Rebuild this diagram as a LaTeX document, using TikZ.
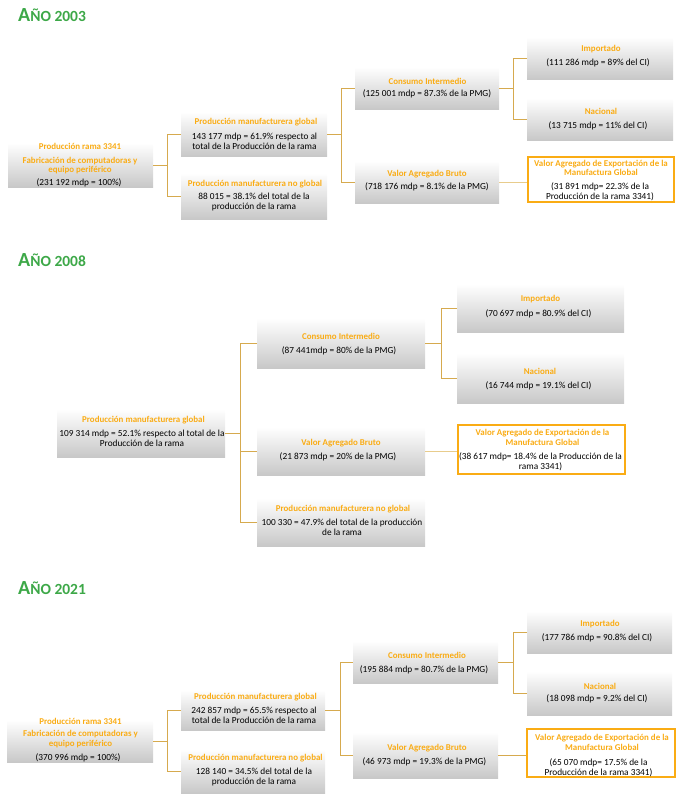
\documentclass[tikz,border=0pt]{standalone}
\usepackage{fontspec}
\setmainfont{Carlito}
\definecolor{orng}{RGB}{250,172,20}
\definecolor{conn}{RGB}{214,170,78}
\definecolor{connl}{RGB}{232,204,140}
\definecolor{grn}{RGB}{61,168,72}
\definecolor{boxbot}{RGB}{200,200,200}
\begin{document}
\begin{tikzpicture}[x=1pt,y=-1pt,
 gbox/.style={rectangle, inner sep=0pt, top color=white, bottom color=boxbot, draw=none},
 obox/.style={rectangle, inner sep=0pt, draw=orng, line width=1.6pt, fill=white},
 ttl/.style={text=orng, font=\fontsize{8.9}{9.6}\selectfont\bfseries, align=center, inner sep=0pt},
 bdy/.style={text=black, font=\fontsize{9.3}{9.9}\selectfont, align=center, inner sep=0pt},
 yr/.style={text=grn, font=\bfseries, anchor=base west, inner sep=0pt},
 ln/.style={draw=conn, line width=0.9pt},
 lnl/.style={draw=connl, line width=0.9pt},
]
\useasboundingbox (0,0) rectangle (683,800);

% ---------- 2003 ----------
\node[yr] (y03) at (18,22) {{\fontsize{20}{20}\selectfont A}{\fontsize{15.5}{15.5}\selectfont ÑO 2003}};
\node[gbox, minimum width=145pt, minimum height=44pt] (r03) at (80.5,165) {};
\node[gbox, minimum width=146pt, minimum height=44pt] (g03) at (254,134) {};
\node[gbox, minimum width=146pt, minimum height=46pt] (n03) at (254,196) {};
\node[gbox, minimum width=144pt, minimum height=42pt] (ci03) at (427,88) {};
\node[gbox, minimum width=144pt, minimum height=42pt] (vab03) at (427,182) {};
\node[gbox, minimum width=146pt, minimum height=42pt] (imp03) at (600,58) {};
\node[gbox, minimum width=146pt, minimum height=42pt] (nac03) at (600,119) {};
\node[obox, minimum width=146pt, minimum height=45pt] (vae03) at (601,179.5) {};

\draw[ln] (r03.east) -- ++(14,0) |- (g03.west);
\draw[ln] (r03.east) -- ++(14,0) |- (n03.west);
\draw[ln] (g03.east) -- ++(14,0) |- (ci03.west);
\draw[ln] (g03.east) -- ++(14,0) |- (vab03.west);
\draw[ln] (ci03.east) -- ++(14,0) |- (imp03.west);
\draw[ln] (ci03.east) -- ++(14,0) |- (nac03.west);
\draw[lnl] (vab03.east) -- (vab03.east -| vae03.west);

\node[ttl] (r03t1) at (80,146) {Producción rama 3341};
\node[ttl] (r03t2) at (80,165.5) {Fabricación de computadoras y\\equipo periférico};
\node[bdy] (r03b) at (79,183) {(231 192 mdp = 100\%)};
\node[ttl] (g03t) at (256,122) {Producción manufacturera global};
\node[bdy] (g03b) at (254.5,141.5) {143 177 mdp = 61.9\% respecto al\\total de la Producción de la rama};
\node[ttl] (n03t) at (255,184) {Producción manufacturera no global};
\node[bdy] (n03b) at (254,202) {88 015 = 38.1\% del total de la\\producción de la rama};
\node[ttl] (ci03t) at (427.5,81) {Consumo Intermedio};
\node[bdy] (ci03b) at (427,94) {(125 001 mdp = 87.3\% de la PMG)};
\node[ttl] (vab03t) at (427,174) {Valor Agregado Bruto};
\node[bdy] (vab03b) at (427,187) {(718 176 mdp = 8.1\% de la PMG)};
\node[ttl] (imp03t) at (601,49) {Importado};
\node[bdy] (imp03b) at (598,63) {(111 286 mdp = 89\% del CI)};
\node[ttl] (nac03t) at (601,111) {Nacional};
\node[bdy] (nac03b) at (598,126) {(13 715 mdp = 11\% del CI)};
\node[ttl] (vae03t) at (601,168) {Valor Agregado de Exportación de la\\Manufactura Global};
\node[bdy] (vae03b) at (600,192) {(31 891 mdp= 22.3\% de la\\Producción de la rama 3341)};

% ---------- 2008 ----------
\node[yr] (y08) at (18,266) {{\fontsize{20}{20}\selectfont A}{\fontsize{15.5}{15.5}\selectfont ÑO 2008}};
\node[gbox, minimum width=168pt, minimum height=48pt] (r08) at (141,433) {};
\node[gbox, minimum width=168pt, minimum height=50pt] (ci08) at (341,343) {};
\node[gbox, minimum width=168pt, minimum height=48pt] (vab08) at (341,451) {};
\node[gbox, minimum width=168pt, minimum height=48pt] (n08) at (341,522) {};
\node[gbox, minimum width=167pt, minimum height=48pt] (imp08) at (540.5,308) {};
\node[gbox, minimum width=167pt, minimum height=50pt] (nac08) at (540.5,378) {};
\node[obox, minimum width=167pt, minimum height=49pt] (vae08) at (541.5,449.5) {};

\draw[ln] (r08.east) -- ++(15,0) |- (ci08.west);
\draw[ln] (r08.east) -- ++(15,0) |- (vab08.west);
\draw[ln] (r08.east) -- ++(15,0) |- (n08.west);
\draw[ln] (ci08.east) -- ++(16,0) |- (imp08.west);
\draw[ln] (ci08.east) -- ++(16,0) |- (nac08.west);
\draw[lnl] (vab08.east) -- (vab08.east -| vae08.west);

\node[ttl] (r08t) at (143.5,420) {Producción manufacturera global};
\node[bdy] (r08b) at (142,438) {109 314 mdp = 52.1\% respecto al total de la\\Producción de la rama};
\node[ttl] (ci08t) at (341,336) {Consumo Intermedio};
\node[bdy] (ci08b) at (339,351) {(87 441mdp = 80\% de la PMG)};
\node[ttl] (vab08t) at (341,443) {Valor Agregado Bruto};
\node[bdy] (vab08b) at (338,457) {(21 873 mdp = 20\% de la PMG)};
\node[ttl] (n08t) at (343,509) {Producción manufacturera no global};
\node[bdy] (n08b) at (342,527.5) {100 330 = 47.9\% del total de la producción\\de la rama};
\node[ttl] (imp08t) at (540.5,299) {Importado};
\node[bdy] (imp08b) at (538.5,314) {(70 697 mdp = 80.9\% del CI)};
\node[ttl] (nac08t) at (540,371) {Nacional};
\node[bdy] (nac08b) at (538.5,386) {(16 744 mdp = 19.1\% del CI)};
\node[ttl] (vae08t) at (542.5,437.5) {Valor Agregado de Exportación de la\\Manufactura Global};
\node[bdy] (vae08b) at (540.5,461.5) {(38 617 mdp= 18.4\% de la Producción de la\\rama 3341)};

% ---------- 2021 ----------
\node[yr] (y21) at (18,594) {{\fontsize{20}{20}\selectfont A}{\fontsize{15.5}{15.5}\selectfont ÑO 2021}};
\node[gbox, minimum width=146pt, minimum height=42pt] (r21) at (80,741) {};
\node[gbox, minimum width=144pt, minimum height=40pt] (g21) at (253,710) {};
\node[gbox, minimum width=144pt, minimum height=44pt] (n21) at (253,771) {};
\node[gbox, minimum width=145pt, minimum height=42pt] (ci21) at (425.5,662) {};
\node[gbox, minimum width=145pt, minimum height=46pt] (vab21) at (425.5,755) {};
\node[gbox, minimum width=145pt, minimum height=42pt] (imp21) at (599.5,632) {};
\node[gbox, minimum width=145pt, minimum height=44pt] (nac21) at (599.5,693) {};
\node[obox, minimum width=148pt, minimum height=48pt] (vae21) at (601,753) {};

\draw[ln] (r21.east) -- ++(14,0) |- (g21.west);
\draw[ln] (r21.east) -- ++(14,0) |- (n21.west);
\draw[ln] (g21.east) -- ++(15,0) |- (ci21.west);
\draw[ln] (g21.east) -- ++(15,0) |- (vab21.west);
\draw[ln] (ci21.east) -- ++(15,0) |- (imp21.west);
\draw[ln] (ci21.east) -- ++(15,0) |- (nac21.west);
\draw[ln] (vab21.east) -- (vab21.east -| vae21.west);

\node[ttl] (r21t1) at (80.5,721) {Producción rama 3341};
\node[ttl] (r21t2) at (80.5,739) {Fabricación de computadoras y\\equipo periférico};
\node[bdy] (r21b) at (78,758) {(370 996 mdp = 100\%)};
\node[ttl] (g21t) at (255.5,697) {Producción manufacturera global};
\node[bdy] (g21b) at (254,715.5) {242 857 mdp = 65.5\% respecto al\\total de la Producción de la rama};
\node[ttl] (n21t) at (255.5,758) {Producción manufacturera no global};
\node[bdy] (n21b) at (254,777) {128 140 = 34.5\% del total de la\\producción de la rama};
\node[ttl] (ci21t) at (427,655) {Consumo Intermedio};
\node[bdy] (ci21b) at (424,670) {(195 884 mdp = 80.7\% de la PMG)};
\node[ttl] (vab21t) at (427,748) {Valor Agregado Bruto};
\node[bdy] (vab21b) at (424.5,762) {(46 973 mdp = 19.3\% de la PMG)};
\node[ttl] (imp21t) at (600,624) {Importado};
\node[bdy] (imp21b) at (597,638) {(177 786 mdp = 90.8\% del CI)};
\node[ttl] (nac21t) at (600,686) {Nacional};
\node[bdy] (nac21b) at (597,699) {(18 098 mdp = 9.2\% del CI)};
\node[ttl] (vae21t) at (602,742.5) {Valor Agregado de Exportación de la\\Manufactura Global};
\node[bdy] (vae21b) at (598.5,767.5) {(65 070 mdp= 17.5\% de la\\Producción de la rama 3341)};
\end{tikzpicture}
\end{document}
